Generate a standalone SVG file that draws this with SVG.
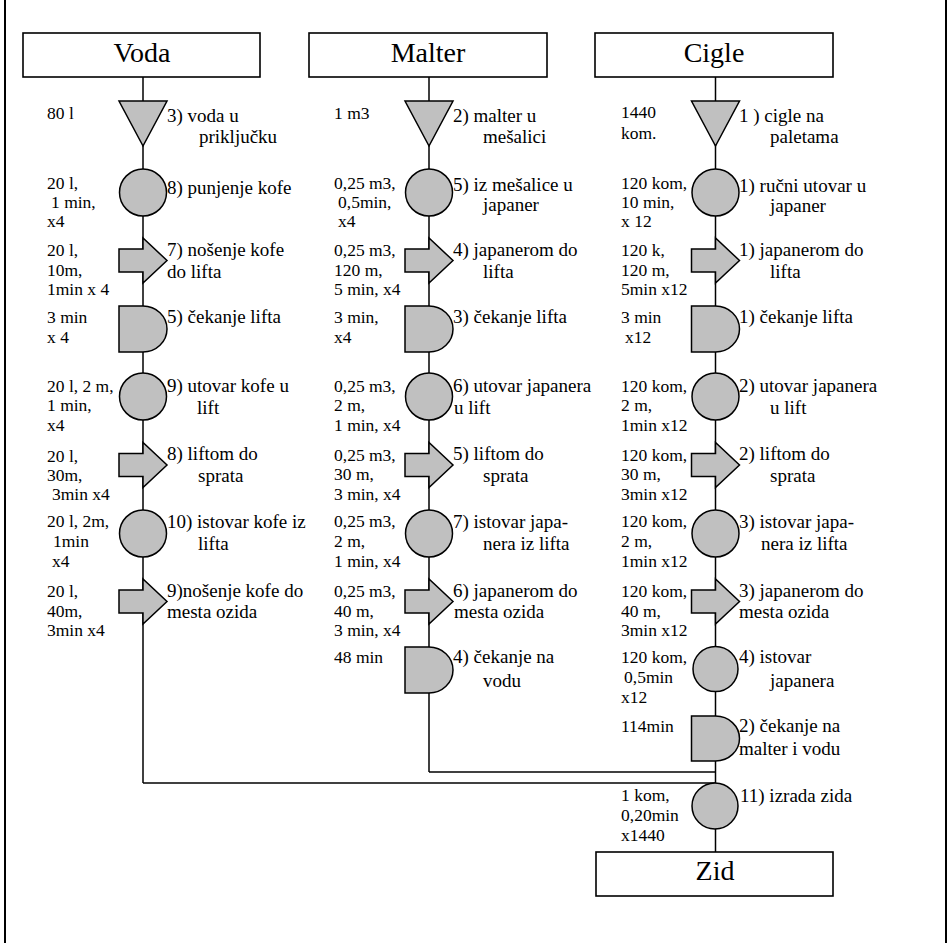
<svg xmlns="http://www.w3.org/2000/svg" width="951" height="943" viewBox="0 0 951 943">
<style>
.bx{fill:#fff;stroke:#000;stroke-width:1.6}
.sh{fill:#c0c0c0;stroke:#000;stroke-width:1.5}
.ln{fill:none;stroke:#000;stroke-width:1.5}
.fr{fill:none;stroke:#000;stroke-width:2}
text{font-family:"Liberation Serif","Times New Roman",serif;fill:#000}
.t{font-size:28px;text-anchor:middle}
.l{font-size:17.5px}
.r{font-size:19px}
</style>
<rect width="951" height="943" fill="#fff"/>
<g id="frame">
<line class="fr" x1="5" y1="0" x2="5" y2="943"/>
<line class="fr" x1="946" y1="0" x2="946" y2="943"/>
</g>
<g id="connectors">
<line class="ln" x1="143" y1="77" x2="143" y2="783"/>
<line class="ln" x1="143" y1="783" x2="715.5" y2="783"/>
<line class="ln" x1="429" y1="77" x2="429" y2="772"/>
<line class="ln" x1="429" y1="772" x2="715.5" y2="772"/>
<line class="ln" x1="715.5" y1="77" x2="715.5" y2="852"/>
</g>
<g id="voda"><rect class="bx" x="23" y="33" width="237" height="44"/><text class="t" x="142" y="62">Voda</text></g>
<g id="malter"><rect class="bx" x="309" y="33" width="238" height="44"/><text class="t" x="428" y="62">Malter</text></g>
<g id="cigle"><rect class="bx" x="595" y="33" width="238" height="44"/><text class="t" x="714" y="62">Cigle</text></g>
<g id="zid"><rect class="bx" x="596" y="852" width="237" height="44"/><text class="t" x="715" y="880">Zid</text></g>

<!-- Column 1: Voda -->
<g id="v3">
<polygon class="sh" points="119,101 167,101 143,146"/>
<text class="l" x="47" y="119">80 l</text>
<text class="r" x="167" y="122">3) voda u</text>
<text class="r" x="199" y="143">priključku</text>
</g>
<g id="v8">
<circle class="sh" cx="143" cy="192.5" r="23.5"/>
<text class="l" x="47" y="189">20 l,</text>
<text class="l" x="51" y="208">1 min,</text>
<text class="l" x="47" y="227">x4</text>
<text class="r" x="167" y="194">8) punjenje kofe</text>
</g>
<g id="v7">
<path class="sh" d="M119,249 H143 V238 L167,260.5 L143,283 V272 H119 Z"/>
<text class="l" x="47" y="256">20 l,</text>
<text class="l" x="47" y="276">10m,</text>
<text class="l" x="47" y="295">1min x 4</text>
<text class="r" x="167" y="256">7) nošenje kofe</text>
<text class="r" x="167" y="278">do lifta</text>
</g>
<g id="v5">
<path class="sh" d="M119,306 H143 A24 23 0 0 1 143,352 H119 Z"/>
<text class="l" x="47" y="323">3 min</text>
<text class="l" x="47" y="342.5">x 4</text>
<text class="r" x="167" y="323">5) čekanje lifta</text>
</g>
<g id="v9">
<circle class="sh" cx="143" cy="396.5" r="23.5"/>
<text class="l" x="47" y="392">20 l, 2 m,</text>
<text class="l" x="47" y="411">1 min,</text>
<text class="l" x="47" y="430.5">x4</text>
<text class="r" x="167" y="392">9) utovar kofe u</text>
<text class="r" x="197" y="414">lift</text>
</g>
<g id="v8b">
<path class="sh" d="M119,453.5 H143 V442.5 L167,465 L143,487.5 V476.5 H119 Z"/>
<text class="l" x="47" y="462">20 l,</text>
<text class="l" x="47" y="481">30m,</text>
<text class="l" x="52" y="500">3min x4</text>
<text class="r" x="167" y="460">8) liftom do</text>
<text class="r" x="198" y="482">sprata</text>
</g>
<g id="v10">
<circle class="sh" cx="143" cy="533.5" r="23.5"/>
<text class="l" x="47" y="527">20 l, 2m,</text>
<text class="l" x="53" y="547">1min</text>
<text class="l" x="52" y="567">x4</text>
<text class="r" x="167" y="528">10) istovar kofe iz</text>
<text class="r" x="198" y="550">lifta</text>
</g>
<g id="v9b">
<path class="sh" d="M119,590 H143 V579 L167,601.5 L143,624 V613 H119 Z"/>
<text class="l" x="47" y="597">20 l,</text>
<text class="l" x="47" y="617">40m,</text>
<text class="l" x="47" y="636">3min x4</text>
<text class="r" x="167" y="597">9)nošenje kofe do</text>
<text class="r" x="167" y="618">mesta ozida</text>
</g>

<!-- Column 2: Malter -->
<g id="m2">
<polygon class="sh" points="405,101 453,101 429,146"/>
<text class="l" x="334" y="119">1 m3</text>
<text class="r" x="453" y="122">2) malter u</text>
<text class="r" x="483" y="143">mešalici</text>
</g>
<g id="m5">
<circle class="sh" cx="429" cy="192.5" r="23.5"/>
<text class="l" x="334" y="189">0,25 m3,</text>
<text class="l" x="338" y="208">0,5min,</text>
<text class="l" x="338" y="227">x4</text>
<text class="r" x="453" y="191">5) iz mešalice u</text>
<text class="r" x="483" y="211">japaner</text>
</g>
<g id="m4">
<path class="sh" d="M405,249 H429 V238 L453,260.5 L429,283 V272 H405 Z"/>
<text class="l" x="334" y="256">0,25 m3,</text>
<text class="l" x="334" y="275.5">120 m,</text>
<text class="l" x="334" y="295">5 min, x4</text>
<text class="r" x="453" y="256">4) japanerom do</text>
<text class="r" x="483" y="278">lifta</text>
</g>
<g id="m3">
<path class="sh" d="M405,306 H429 A24 23 0 0 1 429,352 H405 Z"/>
<text class="l" x="334" y="323">3 min,</text>
<text class="l" x="334" y="342.5">x4</text>
<text class="r" x="453" y="323">3) čekanje lifta</text>
</g>
<g id="m6">
<circle class="sh" cx="429" cy="396.5" r="23.5"/>
<text class="l" x="334" y="392">0,25 m3,</text>
<text class="l" x="334" y="411">2 m,</text>
<text class="l" x="334" y="430.5">1 min, x4</text>
<text class="r" x="453" y="392">6) utovar japanera</text>
<text class="r" x="454" y="414">u lift</text>
</g>
<g id="m5b">
<path class="sh" d="M405,453.5 H429 V442.5 L453,465 L429,487.5 V476.5 H405 Z"/>
<text class="l" x="334" y="461">0,25 m3,</text>
<text class="l" x="334" y="480">30 m,</text>
<text class="l" x="334" y="499.5">3 min, x4</text>
<text class="r" x="453" y="460">5) liftom do</text>
<text class="r" x="483" y="482">sprata</text>
</g>
<g id="m7">
<circle class="sh" cx="429" cy="533.5" r="23.5"/>
<text class="l" x="334" y="527">0,25 m3,</text>
<text class="l" x="334" y="547">2 m,</text>
<text class="l" x="334" y="567">1 min, x4</text>
<text class="r" x="453" y="528">7) istovar japa-</text>
<text class="r" x="483" y="550">nera iz lifta</text>
</g>
<g id="m6b">
<path class="sh" d="M405,590 H429 V579 L453,601.5 L429,624 V613 H405 Z"/>
<text class="l" x="334" y="597">0,25 m3,</text>
<text class="l" x="334" y="617">40 m,</text>
<text class="l" x="334" y="636">3 min, x4</text>
<text class="r" x="453" y="597">6) japanerom do</text>
<text class="r" x="454" y="618">mesta ozida</text>
</g>
<g id="m4b">
<path class="sh" d="M405,647 H429 A24 23 0 0 1 429,693 H405 Z"/>
<text class="l" x="334" y="663">48 min</text>
<text class="r" x="453" y="663">4) čekanje na</text>
<text class="r" x="483" y="687">vodu</text>
</g>

<!-- Column 3: Cigle -->
<g id="c1">
<polygon class="sh" points="691.5,101 739.5,101 715.5,146"/>
<text class="l" x="621" y="118">1440</text>
<text class="l" x="621" y="139">kom.</text>
<text class="r" x="739" y="122">1 ) cigle  na</text>
<text class="r" x="770" y="143">paletama</text>
</g>
<g id="c1b">
<circle class="sh" cx="715.5" cy="192.5" r="23.5"/>
<text class="l" x="621" y="189">120 kom,</text>
<text class="l" x="621" y="208">10 min,</text>
<text class="l" x="621" y="227">x 12</text>
<text class="r" x="739" y="192">1) ručni utovar u</text>
<text class="r" x="770" y="212">japaner</text>
</g>
<g id="c1c">
<path class="sh" d="M691.5,249 H715.5 V238 L739.5,260.5 L715.5,283 V272 H691.5 Z"/>
<text class="l" x="621" y="256">120 k,</text>
<text class="l" x="621" y="275.5">120 m,</text>
<text class="l" x="621" y="295">5min x12</text>
<text class="r" x="739" y="256">1) japanerom do</text>
<text class="r" x="770" y="278">lifta</text>
</g>
<g id="c1d">
<path class="sh" d="M691.5,306 H715.5 A24 23 0 0 1 715.5,352 H691.5 Z"/>
<text class="l" x="621" y="323">3 min</text>
<text class="l" x="625" y="342.5">x12</text>
<text class="r" x="739" y="323">1) čekanje lifta</text>
</g>
<g id="c2">
<circle class="sh" cx="715.5" cy="396.5" r="23.5"/>
<text class="l" x="621" y="392">120 kom,</text>
<text class="l" x="621" y="411">2 m,</text>
<text class="l" x="621" y="430.5">1min x12</text>
<text class="r" x="739" y="392">2) utovar japanera</text>
<text class="r" x="770" y="414">u lift</text>
</g>
<g id="c2b">
<path class="sh" d="M691.5,453.5 H715.5 V442.5 L739.5,465 L715.5,487.5 V476.5 H691.5 Z"/>
<text class="l" x="621" y="461">120 kom,</text>
<text class="l" x="621" y="480">30 m,</text>
<text class="l" x="621" y="499.5">3min x12</text>
<text class="r" x="739" y="460">2) liftom do</text>
<text class="r" x="770" y="482">sprata</text>
</g>
<g id="c3">
<circle class="sh" cx="715.5" cy="533.5" r="23.5"/>
<text class="l" x="621" y="527">120 kom,</text>
<text class="l" x="621" y="547">2 m,</text>
<text class="l" x="621" y="567">1min x12</text>
<text class="r" x="739" y="528">3) istovar japa-</text>
<text class="r" x="761" y="550">nera iz lifta</text>
</g>
<g id="c3b">
<path class="sh" d="M691.5,590 H715.5 V579 L739.5,601.5 L715.5,624 V613 H691.5 Z"/>
<text class="l" x="621" y="597">120 kom,</text>
<text class="l" x="621" y="617">40 m,</text>
<text class="l" x="621" y="636">3min x12</text>
<text class="r" x="739" y="597">3) japanerom do</text>
<text class="r" x="739" y="618">mesta ozida</text>
</g>
<g id="c4">
<circle class="sh" cx="715.5" cy="669" r="22.5"/>
<text class="l" x="621" y="663">120 kom,</text>
<text class="l" x="624" y="683">0,5min</text>
<text class="l" x="621" y="702.5">x12</text>
<text class="r" x="739" y="663">4) istovar</text>
<text class="r" x="770" y="687">japanera</text>
</g>
<g id="c2c">
<path class="sh" d="M691.5,716 H715.5 A24 22.5 0 0 1 715.5,761 H691.5 Z"/>
<text class="l" x="621" y="732">114min</text>
<text class="r" x="739" y="732">2) čekanje na</text>
<text class="r" x="739" y="755">malter i vodu</text>
</g>
<g id="z11">
<circle class="sh" cx="715" cy="806" r="23"/>
<text class="l" x="621" y="801">1 kom,</text>
<text class="l" x="621" y="820.5">0,20min</text>
<text class="l" x="621" y="841">x1440</text>
<text class="r" x="740" y="802">11) izrada zida</text>
</g>
</svg>
